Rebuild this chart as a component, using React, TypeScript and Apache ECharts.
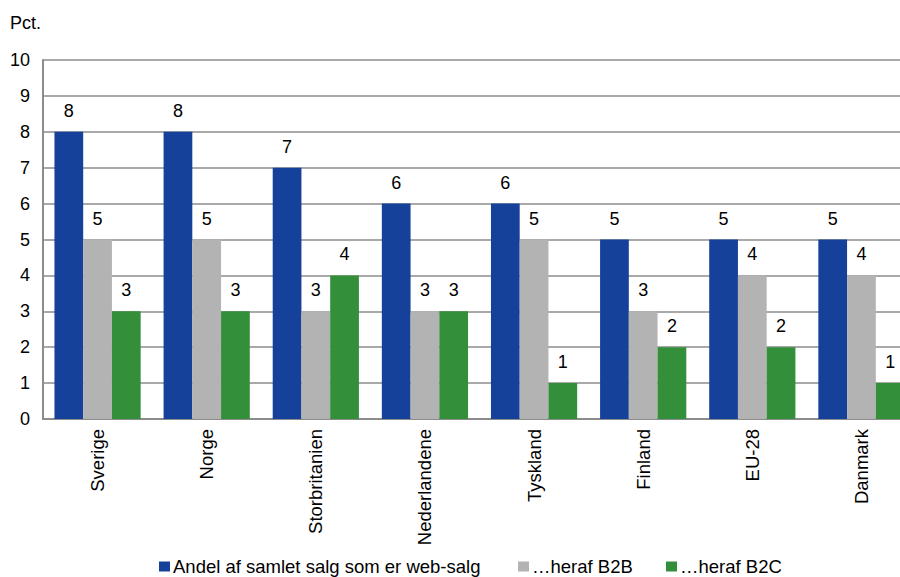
import React, { useEffect, useRef } from "react";
import * as echarts from "echarts";

const categories = ["Sverige", "Norge", "Storbritanien", "Nederlandene", "Tyskland", "Finland", "EU-28", "Danmark"];
const seriesNames = ["Andel af samlet salg som er web-salg", "…heraf B2B", "…heraf B2C"];
const webSalg = [8, 8, 7, 6, 6, 5, 5, 5];
const b2b = [5, 5, 3, 3, 5, 3, 4, 4];
const b2c = [3, 3, 4, 3, 1, 2, 2, 1];
const colors = ["#15419a", "#b3b3b3", "#348f3a"];

const FONT = "Liberation Sans, Arial, sans-serif";

export default function App() {
  const ref = useRef<HTMLDivElement>(null);
  useEffect(() => {
    const chart = echarts.init(ref.current!, null, { renderer: "svg" });
    const mk = (name: string, data: number[], color: string) => ({
      name,
      type: "bar",
      data,
      barGap: "0%",
      barCategoryGap: "21%",
      itemStyle: { color },
      label: {
        show: true,
        position: "top",
        distance: 12,
        color: "#000",
        fontSize: 18,
        fontFamily: FONT,
      },
    });
    const legendBase = {
      top: 557,
      padding: 0,
      itemWidth: 11,
      itemHeight: 10,
      icon: "rect",
      itemGap: 4,
      textStyle: { fontSize: 18.5, fontFamily: FONT, color: "#000", padding: [0, 0, 0, -2] },
    };
    chart.setOption({
      animation: false,
      color: colors,
      grid: { left: 43, right: 0, top: 60, bottom: 158, containLabel: false },
      graphic: [
        {
          type: "text",
          left: 10,
          top: 14,
          style: { text: "Pct.", fontSize: 18, fontFamily: FONT, fill: "#000" },
        },
      ],
      legend: [
        { ...legendBase, left: 159, data: [seriesNames[0]] },
        { ...legendBase, left: 518, data: [seriesNames[1]] },
        { ...legendBase, left: 666, data: [seriesNames[2]] },
      ],
      xAxis: {
        type: "category",
        data: categories,
        axisLine: { show: true, lineStyle: { color: "#8c8c8c", width: 2 } },
        axisTick: { show: false },
        axisLabel: { rotate: 90, fontSize: 18.5, fontFamily: FONT, color: "#000", margin: 10 },
      },
      yAxis: {
        type: "value",
        min: 0,
        max: 10,
        interval: 1,
        axisLine: { show: true, lineStyle: { color: "#8c8c8c", width: 2 } },
        axisTick: { show: false },
        axisLabel: { fontSize: 18, fontFamily: FONT, color: "#000", margin: 13 },
        splitLine: { show: true, lineStyle: { color: "#8c8c8c", width: 1.5 } },
      },
      series: [mk(seriesNames[0], webSalg, colors[0]), mk(seriesNames[1], b2b, colors[1]), mk(seriesNames[2], b2c, colors[2])],
    });
    return () => chart.dispose();
  }, []);
  return (
    <div style={{ width: 900, height: 577, position: "absolute", left: 0, top: 0, overflow: "hidden" }}>
      <div ref={ref} style={{ width: 916, height: 577 }} />
    </div>
  );
}
